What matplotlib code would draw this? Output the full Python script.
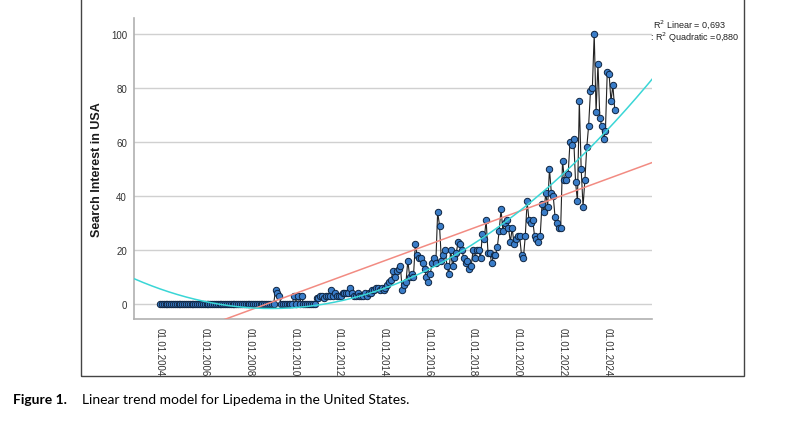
## Libraries:
import numpy as np
import matplotlib.pyplot as plt
from matplotlib.patches import Rectangle

## Data: monthly search interest, Jan 2004 - May 2024
start_year = 2004
search_interest = [
    0, 0, 0, 0, 0, 0, 0, 0, 0, 0, 0, 0,            # 2004
    0, 0, 0, 0, 0, 0, 0, 0, 0, 0, 0, 0,            # 2005
    0, 0, 0, 0, 0, 0, 0, 0, 0, 0, 0, 0,            # 2006
    0, 0, 0, 0, 0, 0, 0, 0, 0, 0, 0, 0,            # 2007
    0, 0, 0, 0, 0, 0, 0, 0, 0, 0, 0, 0,            # 2008
    0, 0, 5, 4, 3, 0, 0, 0, 0, 0, 0, 0,            # 2009
    3, 0, 3, 0, 3, 0, 0, 0, 0, 0, 0, 0,            # 2010
    2, 2, 3, 3, 2, 3, 3, 3, 5, 3, 4, 3,            # 2011
    3, 3, 4, 4, 4, 4, 6, 4, 3, 3, 4, 3,            # 2012
    3, 3, 4, 3, 4, 4, 5, 5, 6, 6, 5, 6,            # 2013
    5, 6, 7, 8, 9, 12, 10, 12, 13, 14, 5, 7,       # 2014
    8, 16, 10, 11, 10, 22, 18, 17, 17, 15, 13, 10,  # 2015
    8, 11, 15, 17, 15, 34, 29, 16, 18, 20, 14, 11,  # 2016
    20, 14, 17, 19, 23, 22, 20, 17, 15, 16, 13, 14,  # 2017
    20, 17, 20, 20, 17, 26, 24, 31, 19, 19, 15, 18,  # 2018
    18, 21, 27, 35, 27, 30, 31, 28, 23, 28, 22, 24,  # 2019
    25, 25, 18, 17, 25, 38, 31, 30, 31, 25, 24, 23,  # 2020
    25, 37, 34, 41, 36, 50, 41, 40, 32, 30, 28, 28,  # 2021
    53, 46, 46, 48, 60, 59, 61, 45, 38, 75, 50, 36,  # 2022
    46, 58, 66, 79, 80, 100, 71, 89, 69, 66, 61, 64,  # 2023
    86, 85, 75, 81, 72,                             # 2024
]
tick_years = [2004, 2006, 2008, 2010, 2012, 2014, 2016, 2018, 2020, 2022, 2024]
y_ticks = [0, 20, 40, 60, 80, 100]
r2_linear = "0,693"
r2_quadratic = "0,880"

t = start_year + np.arange(len(search_interest)) / 12.0
y = np.array(search_interest, dtype=float)

## Fit lines:
lin = np.polyfit(t, y, 1)
quad = np.polyfit(t, y, 2)
x_lo, x_hi = 2002.84, 2026.0
xf = np.linspace(x_lo, x_hi, 300)

## Figure:
plt.rcParams['font.family'] = ['Liberation Sans', 'DejaVu Sans']
fig = plt.figure(figsize=(8.07, 4.31), dpi=100)
ax = fig.add_axes([134 / 807, 1 - 320 / 431, (652 - 134) / 807, (320 - 19) / 431])

for v in y_ticks:
    ax.axhline(v, color='#d0d0d0', lw=1.0, zorder=0)

ax.plot(t, y, color='#222222', lw=0.8, marker='o', ms=4.6,
        mfc='#3a7dc9', mec='#0e2440', mew=0.7, zorder=2)
ax.plot(xf, np.polyval(lin, xf), color='#f28b82', lw=1.1, zorder=3)
ax.plot(xf, np.polyval(quad, xf), color='#3ad6d6', lw=1.1, zorder=3)

ax.set_xlim(x_lo, x_hi)
ax.set_ylim(-5.6, 105.9)
ax.set_yticks(y_ticks)
ax.set_xticks(tick_years)
ax.set_xticklabels([f"01.01.{yr}" for yr in tick_years], rotation=-90, fontsize=7, color='#333333')
ax.tick_params(axis='y', labelsize=7, colors='#333333', length=0, pad=5)
ax.tick_params(axis='x', length=0, pad=6)
for s in ['top', 'right']:
    ax.spines[s].set_visible(False)
for s in ['left', 'bottom']:
    ax.spines[s].set_color('#b0b0b0')
    ax.spines[s].set_linewidth(1.2)
ax.set_ylabel("Search Interest in USA", fontsize=9, fontweight='bold', color='#1a1a1a', labelpad=6)

## Legend text:
fig.text(653 / 807, 1 - 25 / 431, f"R$^2$ Linear = {r2_linear}", fontsize=6.5, va='center', color='#222222')
fig.text(650 / 807, 1 - 38 / 431, f": R$^2$ Quadratic ={r2_quadratic}", fontsize=6.5, va='center', color='#222222')

## Outer frame (top edge lies outside the picture):
fig.patches.append(Rectangle((81 / 807, 1 - 377 / 431), (744 - 81) / 807, (377 + 10) / 431,
                             transform=fig.transFigure, fill=False, ec='#444444', lw=1.0))

## Caption:
fig.text(13 / 807, 1 - 400 / 431, "Figure 1.", fontsize=10, fontweight='bold',
         family=['Lato', 'DejaVu Sans'], va='center')
fig.text(82 / 807, 1 - 400 / 431, "Linear trend model for Lipedema in the United States.",
         fontsize=10, family=['Lato', 'DejaVu Sans'], va='center')

fig.savefig("out.png", dpi=100)
